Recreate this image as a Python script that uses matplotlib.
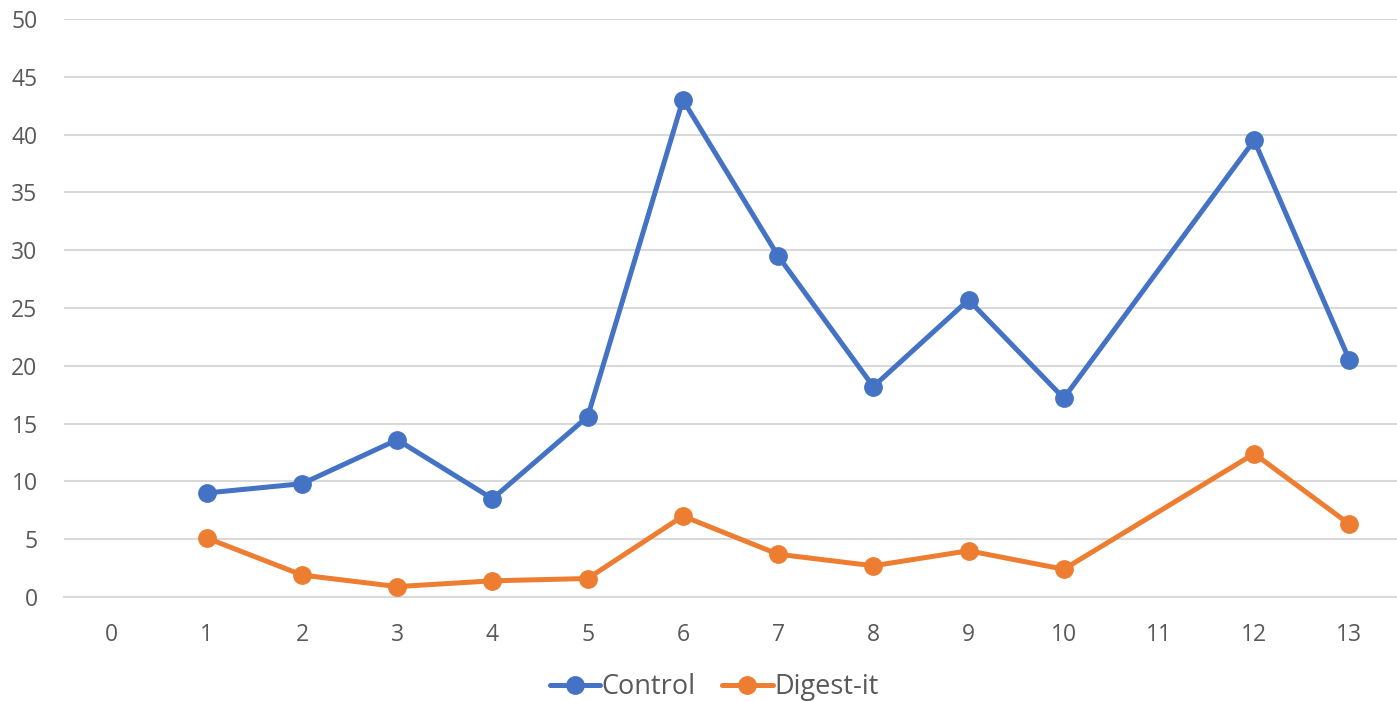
import numpy as np
import matplotlib.pyplot as plt

# categories on the x axis (Excel-style category axis)
categories = [str(i) for i in range(14)]
control = [np.nan, 9.0, 9.8, 13.6, 8.5, 15.6, 43.0, 29.5, 18.2, 25.7, 17.2, np.nan, 39.5, 20.5]
digest = [np.nan, 5.1, 1.9, 0.9, 1.4, 1.6, 7.0, 3.7, 2.7, 4.0, 2.4, np.nan, 12.4, 6.3]
yticks = list(range(0, 55, 5))

plt.rcParams['font.family'] = ['Open Sans', 'DejaVu Sans']

fig = plt.figure(figsize=(13.97, 7.02), dpi=100)
ax = fig.add_axes([64/1397, 1-597/702, 1-64/1397, (597-19)/702])

x = np.arange(len(categories))

def plot_series(vals, color, label):
    vals = np.array(vals, dtype=float)
    ok = ~np.isnan(vals)
    # Excel connects across gaps, so draw the line through valid points only
    ax.plot(x[ok], vals[ok], '-o', color=color, lw=3.6, ms=12.5,
            label=label, solid_capstyle='round', zorder=3)

plot_series(control, '#4472C4', 'Control')
plot_series(digest, '#ED7D31', 'Digest-it')

ax.set_xlim(-0.5, len(categories) - 0.5)
ax.set_ylim(0, 50)
ax.set_yticks(yticks)
ax.set_xticks(x)
ax.set_xticklabels(categories)
ax.yaxis.grid(True, color='#d9d9d9', lw=1.5)
ax.set_axisbelow(True)
for s in ax.spines.values():
    s.set_visible(False)
ax.tick_params(length=0, labelsize=16.5, colors='#595959')
ax.tick_params(axis='y', pad=19)
ax.tick_params(axis='x', pad=19)
ax.spines['bottom'].set_visible(True)
ax.spines['bottom'].set_color('#d9d9d9')
ax.spines['bottom'].set_linewidth(1.5)

leg = fig.legend(loc='center', bbox_to_anchor=(714/1397, 1-687/702), ncol=2,
                 frameon=False, fontsize=19.5, handlelength=1.85,
                 handletextpad=0.05, columnspacing=1.0, labelcolor='#595959')

fig.savefig('out.png', dpi=100)
